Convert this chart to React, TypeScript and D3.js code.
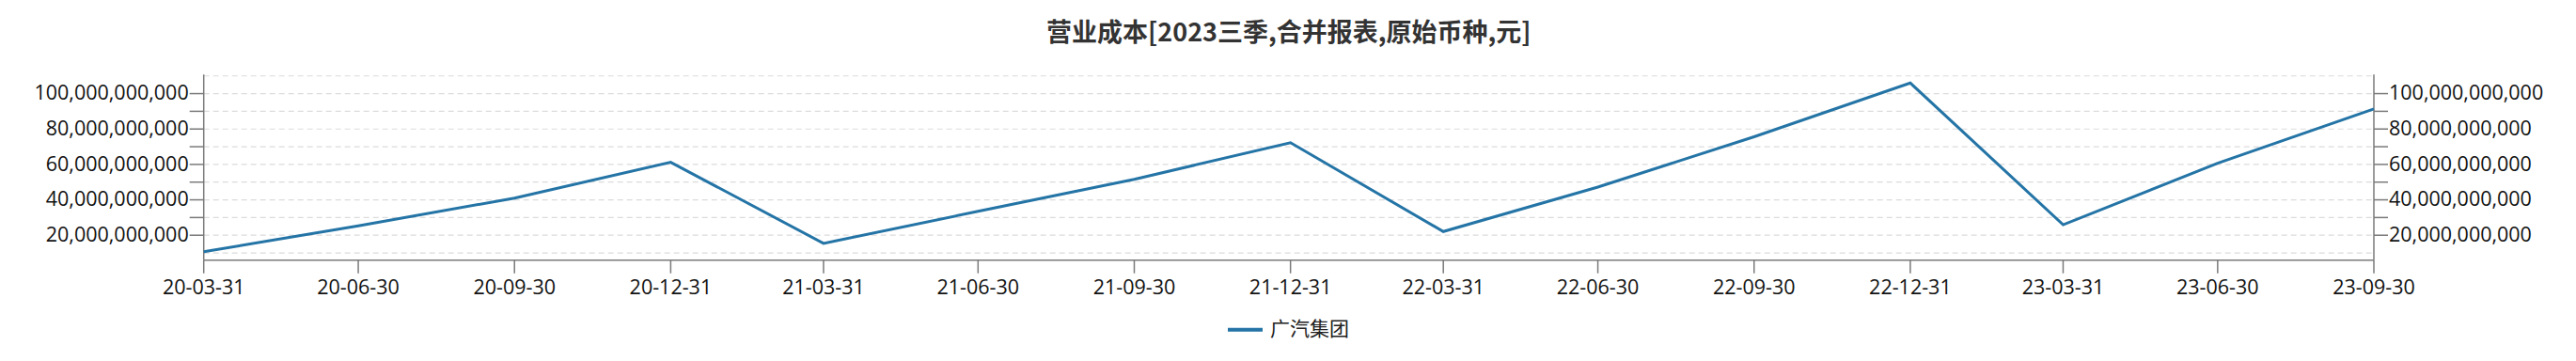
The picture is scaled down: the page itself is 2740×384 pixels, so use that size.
import React from "react";
import * as d3 from "d3";

const title = "营业成本[2023三季,合并报表,原始币种,元]";
const seriesName = "广汽集团";
const dates = [
  "2020-03-31", "2020-06-30", "2020-09-30", "2020-12-31",
  "2021-03-31", "2021-06-30", "2021-09-30", "2021-12-31",
  "2022-03-31", "2022-06-30", "2022-09-30", "2022-12-31",
  "2023-03-31", "2023-06-30", "2023-09-30",
];
const values = [
  10.7e9, 25.3e9, 41.0e9, 61.2e9,
  15.4e9, 33.5e9, 51.6e9, 72.3e9,
  22.1e9, 47.2e9, 75.6e9, 106.0e9,
  25.9e9, 60.7e9, 91.3e9,
];
const yTickValues = [20e9, 30e9, 40e9, 50e9, 60e9, 70e9, 80e9, 90e9, 100e9];
const yLabelValues = [20e9, 40e9, 60e9, 80e9, 100e9];
const gridValues = [10e9, 20e9, 30e9, 40e9, 50e9, 60e9, 70e9, 80e9, 90e9, 100e9, 110e9];

const W = 2740;
const H = 384;
const M = { left: 216.7, right: 215, top: 79.3, bottom: 276.7 };
const LINE = "#2474a6";
const AXIS = "#7a7a7a";
const LATIN = "'Open Sans', 'Noto Sans', 'Noto Sans CJK SC', sans-serif";
const CJK = "'Noto Sans CJK SC', sans-serif";

export default function App() {
  const parse = d3.timeParse("%Y-%m-%d");
  const pts = dates.map((d, i) => ({ date: parse(d) as Date, value: values[i] }));
  const x = d3
    .scaleTime()
    .domain(d3.extent(pts, (p) => p.date) as [Date, Date])
    .range([M.left, W - M.right]);
  const [mn, mx] = d3.extent(values) as [number, number];
  const pad = (mx - mn) * 0.05;
  const y = d3.scaleLinear().domain([mn - pad, mx + pad]).range([M.bottom, M.top]);
  const line = d3
    .line<{ date: Date; value: number }>()
    .x((p) => x(p.date))
    .y((p) => y(p.value));
  const fmtX = d3.timeFormat("%y-%m-%d");
  const fmtY = d3.format(",");
  const xL = M.left;
  const xR = W - M.right;
  const tickLen = 15;

  return (
    <svg
      width={W}
      height={H}
      style={{ position: "absolute", left: 0, top: 0, background: "#fff" }}
    >
      <text
        x={(xL + xR) / 2}
        y={44}
        textAnchor="middle"
        fontFamily={CJK}
        fontWeight="bold"
        fontSize={27}
        fill="#333"
      >
        {title}
      </text>

      {gridValues.map((v) => (
        <line
          key={"g" + v}
          x1={xL}
          x2={xR}
          y1={y(v)}
          y2={y(v)}
          stroke="#dcdcdc"
          strokeWidth={1.2}
          strokeDasharray="6,4"
        />
      ))}

      {/* left axis */}
      <line x1={xL} x2={xL} y1={y.range()[1]} y2={y.range()[0]} stroke={AXIS} strokeWidth={1.5} />
      {yTickValues.map((v) => (
        <line key={"lt" + v} x1={xL - tickLen} x2={xL} y1={y(v)} y2={y(v)} stroke={AXIS} strokeWidth={1.5} />
      ))}
      {yLabelValues.map((v) => (
        <text
          key={"ll" + v}
          x={xL - tickLen - 1}
          y={y(v)}
          dy="0.32em"
          textAnchor="end"
          fontFamily={LATIN}
          fontSize={21.5}
          fill="#111"
        >
          {fmtY(v)}
        </text>
      ))}

      {/* right axis */}
      <line x1={xR} x2={xR} y1={y.range()[1]} y2={y.range()[0]} stroke={AXIS} strokeWidth={1.5} />
      {yTickValues.map((v) => (
        <line key={"rt" + v} x1={xR} x2={xR + tickLen} y1={y(v)} y2={y(v)} stroke={AXIS} strokeWidth={1.5} />
      ))}
      {yLabelValues.map((v) => (
        <text
          key={"rl" + v}
          x={xR + tickLen + 1}
          y={y(v)}
          dy="0.32em"
          textAnchor="start"
          fontFamily={LATIN}
          fontSize={21.5}
          fill="#111"
        >
          {fmtY(v)}
        </text>
      ))}

      {/* x axis */}
      <line x1={xL} x2={xR} y1={M.bottom} y2={M.bottom} stroke={AXIS} strokeWidth={1.5} />
      {pts.map((p) => (
        <g key={"xt" + p.date.getTime()}>
          <line x1={x(p.date)} x2={x(p.date)} y1={M.bottom} y2={M.bottom + 14} stroke={AXIS} strokeWidth={1.5} />
          <text
            x={x(p.date)}
            y={312.5}
            textAnchor="middle"
            fontFamily={LATIN}
            fontSize={21.5}
            fill="#111"
          >
            {fmtX(p.date)}
          </text>
        </g>
      ))}

      <path d={line(pts) || ""} fill="none" stroke={LINE} strokeWidth={3} strokeLinejoin="miter" />

      {/* legend */}
      <line x1={1306} x2={1343} y1={350.7} y2={350.7} stroke={LINE} strokeWidth={4} />
      <text x={1351} y={357} fontFamily={CJK} fontSize={21} fill="#222">
        {seriesName}
      </text>
    </svg>
  );
}
